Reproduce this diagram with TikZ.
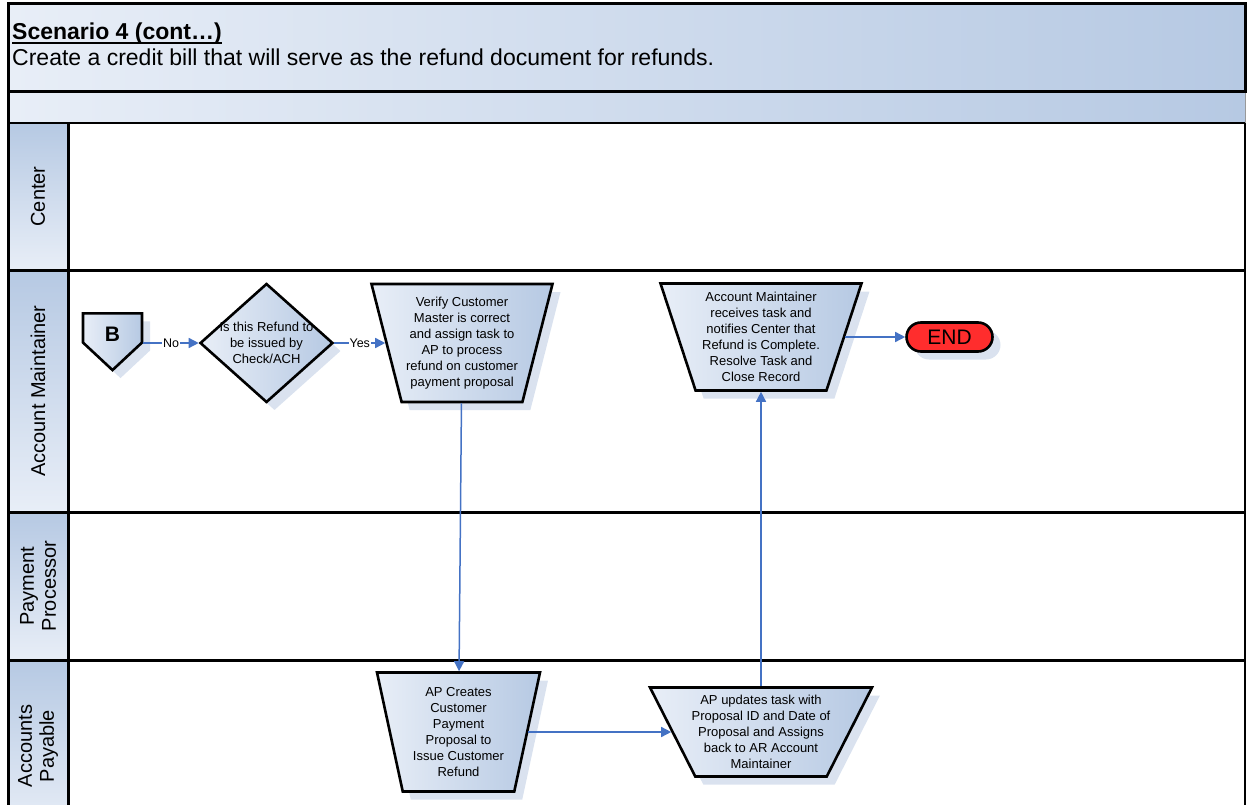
\documentclass[tikz,border=0pt]{standalone}
\usepackage{fontspec}
\setmainfont{Liberation Sans}
\usetikzlibrary{shapes.geometric, shapes.symbols, shapes.misc, arrows.meta, positioning, shadows}
\definecolor{paleblue}{RGB}{232,238,247}
\definecolor{steelblue}{RGB}{182,201,227}
\definecolor{shadowblue}{RGB}{218,226,239}
\definecolor{flowblue}{RGB}{68,114,196}
\definecolor{endred}{RGB}{255,45,45}
\tikzstyle{block} = [draw, line width=2.6pt, left color=paleblue, right color=steelblue,
  drop shadow={shadow xshift=8pt, shadow yshift=-8pt, fill=shadowblue, opacity=1}]
\tikzstyle{task} = [block, trapezium, trapezium stretches=true, shape border rotate=180, inner sep=2pt]
\tikzstyle{decision} = [block, diamond, inner sep=0pt, minimum width=133pt, minimum height=119pt]
\tikzstyle{offpage} = [block, signal, signal to=south, signal from=nowhere, signal pointer angle=94,
  inner sep=2pt, minimum width=59pt, minimum height=31pt]
\tikzstyle{terminal} = [draw, line width=2.6pt, fill=endred, rounded rectangle, inner sep=0pt,
  minimum width=86pt, minimum height=29pt, font=\fontsize{21}{21}\selectfont,
  drop shadow={shadow xshift=8pt, shadow yshift=-8pt, fill=shadowblue, opacity=1}]
\tikzstyle{tasktext} = [align=center, inner sep=0pt, font=\fontsize{13}{16}\selectfont]
\tikzstyle{flow} = [draw=flowblue, line width=1.5pt, ->]
\tikzstyle{flowlabel} = [fill=white, inner sep=1pt, font=\fontsize{12.5}{12.5}\selectfont]
\newcommand{\titlefont}{\fontsize{23}{23}\selectfont}
\newcommand{\lanefont}{\fontsize{20}{22}\selectfont}

\begin{document}
\begin{tikzpicture}[x=1pt, y=-1pt, >={Triangle[length=10pt,width=10pt]}]
  \useasboundingbox (0,0) rectangle (1247,805);
  \clip (0,0) rectangle (1247,805);
  % heading
  \shade[left color=paleblue, right color=steelblue] (8,4) rectangle (1245,123);
  \draw[black!40, line width=1pt] (1245,92) -- (1245,123);
  \draw[line width=3pt] (8,4) rectangle (1245,92);
  \node[anchor=base west, inner sep=0pt, text depth=3pt, font=\titlefont\bfseries] (title) at (12,40)
    {Scenario 4 (cont…)};
  \draw[line width=1.5pt] (title.south west) -- (title.south east);
  \node[anchor=base west, inner sep=0pt, font=\titlefont] (subtitle) at (12,66)
    {Create a credit bill that will serve as the refund document for refunds.};
  % swimlanes
  \foreach \ya/\yb/\id/\lbl in {123/270/center/Center, 270/512/maint/Account Maintainer,
      512/660/payproc/{Payment\\Processor}, 660/832/payable/{Accounts\\Payable}} {
    \shade[top color=steelblue, bottom color=paleblue] (8,\ya) rectangle (68,\yb);
    \node[rotate=90, align=center, font=\lanefont] (\id) at (38,{(\ya+\yb)/2}) {\lbl};
  }
  \draw[line width=3pt] (8,92) -- (8,810);
  \draw[line width=3pt] (68,123) -- (68,810);
  \draw[line width=1.5pt] (1245,123) -- (1245,810);
  \draw[line width=2pt] (8,123) -- (1245,123);
  \foreach \y in {270,512,660}
    \draw[line width=3pt] (8,\y) -- (1245,\y);

  % flow
  \node[decision, label={[tasktext]center:{Is this Refund to\\be issued by\\Check/ACH}}] (check) at (266.5,343) {};
  \node[offpage, left of=check, node distance=154pt, yshift=15pt,
    label={[font=\fontsize{21}{21}\selectfont\bfseries, yshift=-6pt]center:B}] (ref) {};
  \node[task, right of=check, node distance=195.5pt, minimum width=181pt, minimum height=118pt,
    trapezium angle=76, label={[tasktext]center:{Verify Customer\\Master is correct\\and assign task to\\AP to process\\refund on customer\\payment proposal}}] (verify) {};
  \node[task, below of=verify, node distance=389pt, xshift=-3.5pt, minimum width=163pt, minimum height=119pt,
    trapezium angle=77, label={[tasktext]center:{AP Creates\\Customer\\Payment\\Proposal to\\Issue Customer\\Refund}}] (create) {};
  \node[task, right of=create, node distance=302.5pt, minimum width=222pt, minimum height=89pt,
    trapezium angle=71, label={[tasktext]center:{AP updates task with\\Proposal ID and Date of\\Proposal and Assigns\\back to AR Account\\Maintainer}}] (update) {};
  \node[task, above of=update, node distance=395pt, minimum width=201pt, minimum height=107pt,
    trapezium angle=75, label={[tasktext]center:{Account Maintainer\\receives task and\\notifies Center that\\Refund is Complete.\\Resolve Task and\\Close Record}}] (receive) {};
  \node[terminal, right of=receive, node distance=188.5pt] (finish) {END};

  \draw[flow] (ref.east |- check.west) -- node[flowlabel] {No} (check.west);
  \draw[flow] (check) -- node[flowlabel] {Yes} (verify);
  \draw[flow] (verify) -- (create);
  \draw[flow] (create) -- (update);
  \draw[flow] (update) -- (receive);
  \draw[flow] (receive) -- (finish);
\end{tikzpicture}
\end{document}
